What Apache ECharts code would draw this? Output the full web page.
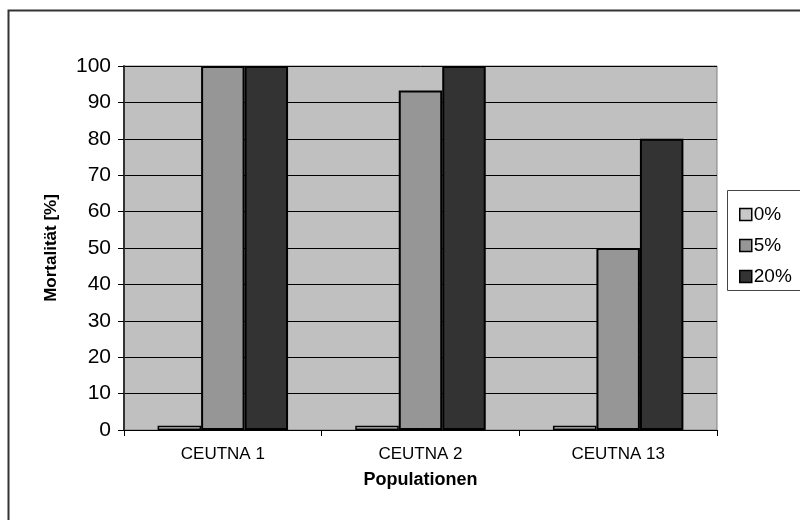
<!DOCTYPE html>
<html><head><meta charset="utf-8">
<script src="https://cdn.jsdelivr.net/npm/echarts@6/dist/echarts.min.js"></script>
<style>html,body{margin:0;padding:0;background:#fff}#c{width:800px;height:520px}</style>
</head><body><div id="c"></div>
<script>
var categories = ['CEUTNA 1', 'CEUTNA 2', 'CEUTNA 13'];
var seriesNames = ['0%', '5%', '20%'];
var vals0 = [1.2, 1.2, 1.2];
var vals5 = [100, 93.3, 50];
var vals20 = [100, 100, 80];
var colors = ['#C8C8C8', '#969696', '#333333'];

var chart = echarts.init(document.getElementById('c'), null, {renderer: 'canvas'});
var font = 'Liberation Sans, Arial, sans-serif';
var dataSets = [vals0, vals5, vals20];
var series = seriesNames.map(function (n, i) {
  return {
    name: n, type: 'bar', data: dataSets[i], barGap: '0%', barCategoryGap: '34%',
    itemStyle: {color: colors[i], borderColor: '#000', borderWidth: i === 0 ? 1.5 : 2},
    animation: false
  };
});
chart.setOption({
  animation: false,
  textStyle: {fontFamily: font},
  graphic: [
    {type: 'rect', shape: {x: 8.5, y: 10.5, width: 820, height: 540}, style: {fill: null, stroke: '#333', lineWidth: 2}, z: -10},
    {type: 'rect', shape: {x: 727.5, y: 190.5, width: 100, height: 100}, style: {fill: '#fff', stroke: '#444', lineWidth: 1}, z: -5}
  ],
  grid: {left: 124, top: 66, width: 593, height: 364, backgroundColor: '#C0C0C0', show: true, borderColor: '#808080', borderWidth: 1},
  legend: {
    orient: 'vertical', left: 734, top: 200, itemWidth: 12, itemHeight: 12, itemGap: 12,
    data: seriesNames.map(function (n, i) { return {name: n, icon: 'rect', itemStyle: {color: colors[i], borderColor: '#000', borderWidth: 1.5}}; }),
    textStyle: {fontSize: 19, color: '#000', fontFamily: font, padding: [0, 0, 0, -3]}
  },
  xAxis: {
    type: 'category', data: categories,
    name: 'Populationen', nameLocation: 'middle', nameGap: 41,
    nameTextStyle: {fontSize: 18, fontWeight: 'bold', color: '#000', fontFamily: font},
    axisLine: {lineStyle: {color: '#000', width: 1}},
    axisTick: {show: true, length: 6, lineStyle: {color: '#000'}},
    axisLabel: {fontSize: 17, color: '#000', margin: 16, fontFamily: font}
  },
  yAxis: {
    type: 'value', min: 0, max: 100, interval: 10,
    name: 'Mortalität [%]', nameLocation: 'middle', nameGap: 64, nameRotate: 90,
    nameTextStyle: {fontSize: 17, fontWeight: 'bold', color: '#000', fontFamily: font},
    axisLine: {show: true, lineStyle: {color: '#333', width: 2}},
    axisTick: {show: true, length: 6, lineStyle: {color: '#000'}},
    axisLabel: {fontSize: 21, color: '#000', margin: 13, fontFamily: font},
    splitLine: {show: true, lineStyle: {color: '#000', width: 1}}
  },
  series: series
});
</script></body></html>
